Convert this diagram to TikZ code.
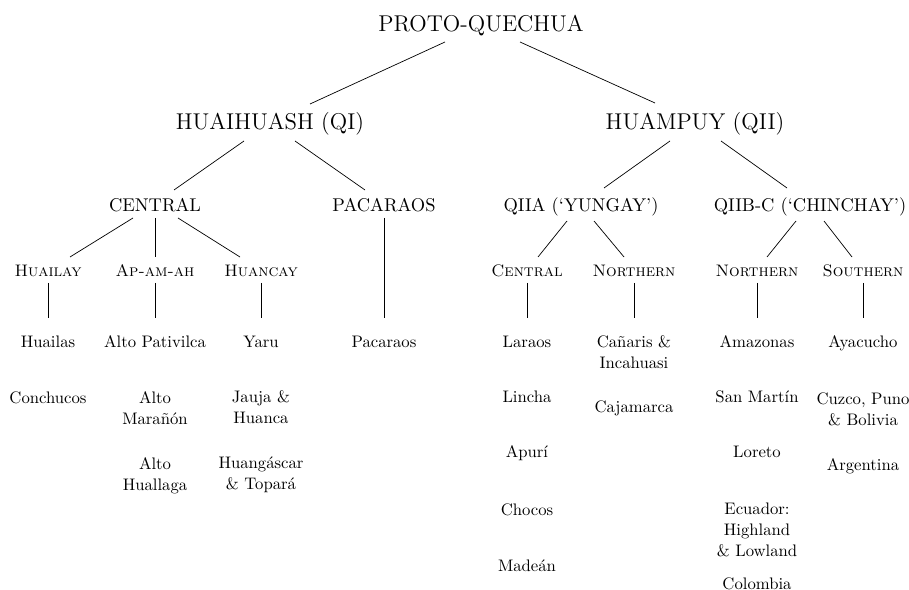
\documentclass[tikz,border=0pt]{standalone}
\usetikzlibrary{calc}
\begin{document}
\begin{tikzpicture}[x=0.02cm,y=-0.02cm,
    toplvl/.style={font=\fontsize{13}{15}\selectfont, inner sep=0pt, anchor=base},
    sublvl/.style={font=\fontsize{10.5}{13}\selectfont, inner sep=0pt, anchor=base},
    sclvl/.style={font=\fontsize{9.5}{12}\selectfont\scshape, inner sep=0pt, anchor=base},
    leaf/.style={font=\fontsize{9.5}{12}\selectfont, inner sep=0pt, anchor=base, align=center}]
    \useasboundingbox (0,0) rectangle (909,590);

    % rows (baselines; multi-line leaves sit on their last line)
    \def\ra{32}
    \def\rb{130}
    \def\rc{212}
    \def\rd{277}
    \def\re{348}

    \node[toplvl] (proto) at (481,\ra) {PROTO-QUECHUA};

    \node[toplvl] (huai) at (270,\rb) {HUAIHUASH (QI)};
    \node[toplvl] (huam) at (695,\rb) {HUAMPUY (QII)};

    \node[sublvl] (central) at (155,\rc) {CENTRAL};
    \node[sublvl] (pacaraos) at (384,\rc) {PACARAOS};
    \node[sublvl] (qiia) at (581,\rc) {QIIA (`YUNGAY')};
    \node[sublvl] (qiib) at (810,\rc) {QIIB-C (`CHINCHAY')};

    \node[sclvl] (huailay) at (48,\rd) {Huailay};
    \node[sclvl] (apamah) at (155,\rd) {Ap-am-ah};
    \node[sclvl] (huancay) at (261,\rd) {Huancay};
    \node[sclvl] (centr) at (527,\rd) {Central};
    \node[sclvl] (northa) at (634,\rd) {Northern};
    \node[sclvl] (northb) at (757,\rd) {Northern};
    \node[sclvl] (south) at (863,\rd) {Southern};

    % leaves
    \node[leaf] (huailas) at (48,\re) {Huailas};
    \node[leaf] (conchucos) at (48,404) {Conchucos};

    \node[leaf] (pativilca) at (155,\re) {Alto Pativilca};
    \node[leaf] (maranon) at (155,425) {Alto\\Marañón};
    \node[leaf] (huallaga) at (155,491) {Alto\\Huallaga};

    \node[leaf] (yaru) at (261,\re) {Yaru};
    \node[leaf] (jauja) at (261,424) {Jauja \&\\Huanca};
    \node[leaf] (huangascar) at (261,490) {Huangáscar\\\& Topará};

    \node[leaf] (pacleaf) at (384,\re) {Pacaraos};

    \node[leaf] (laraos) at (527,\re) {Laraos};
    \node[leaf] (lincha) at (527,403) {Lincha};
    \node[leaf] (apuri) at (527,458) {Apurí};
    \node[leaf] (chocos) at (527,516) {Chocos};
    \node[leaf] (madean) at (527,572) {Madeán};

    \node[leaf] (canaris) at (634,369) {Cañaris \&\\Incahuasi};
    \node[leaf] (cajamarca) at (634,413) {Cajamarca};

    \node[leaf] (amazonas) at (757,\re) {Amazonas};
    \node[leaf] (sanmartin) at (757,403) {San Martín};
    \node[leaf] (loreto) at (757,458) {Loreto};
    \node[leaf] (ecuador) at (757,557) {Ecuador:\\Highland\\\& Lowland};
    \node[leaf] (colombia) at (757,589) {Colombia};

    \node[leaf] (ayacucho) at (863,\re) {Ayacucho};
    \node[leaf] (cuzco) at (863,426) {Cuzco, Puno\\\& Bolivia};
    \node[leaf] (argentina) at (863,471) {Argentina};

    % branches
    \draw ($(proto.base)+(-36,10)$) -- ($(huai.base)+(40,-26)$);
    \draw ($(proto.base)+(39,10)$) -- ($(huam.base)+(-40,-27)$);

    \draw ($(huai.base)+(-26,11)$) -- ($(central.base)+(19,-22)$);
    \draw ($(huai.base)+(25,11)$) -- ($(pacaraos.base)+(-19,-22)$);
    \draw ($(huam.base)+(-25,11)$) -- ($(qiia.base)+(23,-24)$);
    \draw ($(huam.base)+(26,11)$) -- ($(qiib.base)+(-23,-24)$);

    \draw ($(central.base)+(-22,6)$) -- ($(huailay.base)+(22,-20)$);
    \draw ($(central.base)+(0,6)$) -- ($(apamah.base)+(0,-20)$);
    \draw ($(central.base)+(23,6)$) -- ($(huancay.base)+(-21,-20)$);
    \draw ($(pacaraos.base)+(0,6)$) -- ($(pacleaf.base)+(0,-30)$);

    \draw ($(qiia.base)+(-14,9)$) -- ($(centr.base)+(11,-20)$);
    \draw ($(qiia.base)+(13,9)$) -- ($(northa.base)+(-10,-20)$);
    \draw ($(qiib.base)+(-14,9)$) -- ($(northb.base)+(10,-20)$);
    \draw ($(qiib.base)+(14,9)$) -- ($(south.base)+(-11,-20)$);

    \draw ($(huailay.base)+(0,6)$) -- ($(huailas.base)+(0,-30)$);
    \draw ($(apamah.base)+(0,6)$) -- ($(pativilca.base)+(0,-30)$);
    \draw ($(huancay.base)+(0,6)$) -- ($(yaru.base)+(0,-30)$);
    \draw ($(centr.base)+(0,6)$) -- ($(laraos.base)+(0,-30)$);
    \draw ($(northa.base)+(0,6)$) -- ($(canaris.base)+(0,-51)$);
    \draw ($(northb.base)+(0,6)$) -- ($(amazonas.base)+(0,-30)$);
    \draw ($(south.base)+(0,6)$) -- ($(ayacucho.base)+(0,-30)$);
\end{tikzpicture}
\end{document}
